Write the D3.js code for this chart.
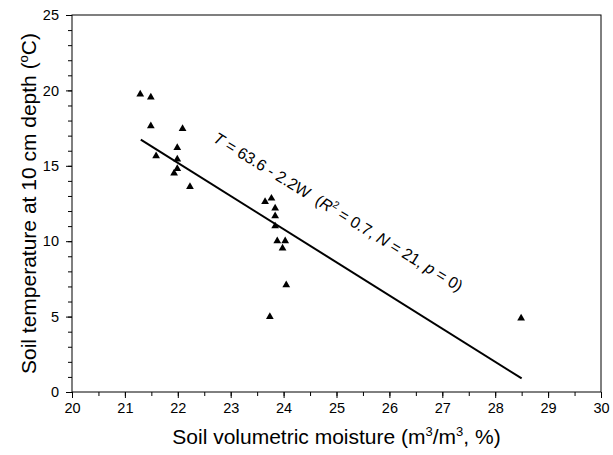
<!DOCTYPE html>
<html>
<head>
<meta charset="utf-8">
<script src="https://cdn.jsdelivr.net/npm/d3@7"></script>
<style>
  body { margin: 0; background: #fff; }
  svg { font-family: Arial, "Liberation Sans", sans-serif; }
</style>
</head>
<body>
<svg id="chart" width="613" height="455"></svg>
<script>
// soil volumetric moisture (%) and soil temperature at 10 cm (deg C)
var moisture = [21.29, 21.49, 21.49, 22.09, 21.99, 21.59, 21.99, 21.99, 21.93, 22.23,
                23.65, 23.77, 23.84, 23.84, 23.84, 23.88, 24.03, 23.98, 24.05, 23.74, 28.49];
var temperature = [19.74, 19.54, 17.64, 17.46, 16.2, 15.65, 15.43, 14.8, 14.5, 13.61,
                   12.62, 12.84, 12.18, 11.67, 11.0, 10.01, 10.01, 9.53, 7.1, 4.99, 4.89];
var xTicks = [20, 21, 22, 23, 24, 25, 26, 27, 28, 29, 30];
var yTicks = [0, 5, 10, 15, 20, 25];
// regression T = 63.6 - 2.2W
var fit = { a: 63.6, b: -2.2, from: 21.3, to: 28.5 };

var svg = d3.select("#chart");
var pLeft = 72, pRight = 601, pTop = 15, pBottom = 392;

var x = d3.scaleLinear().domain([20, 30]).range([pLeft, pRight]);
var y = d3.scaleLinear().domain([0, 25]).range([pBottom, pTop]);

// frame
svg.append("rect")
  .attr("x", pLeft).attr("y", pTop)
  .attr("width", pRight - pLeft).attr("height", pBottom - pTop)
  .attr("fill", "none").attr("stroke", "#000").attr("stroke-width", 1);

// ticks, minor + major
var gx = svg.append("g").attr("transform", "translate(0," + pBottom + ")");
gx.call(d3.axisBottom(x).tickValues(d3.range(20, 30.01, 0.5)).tickSize(4).tickFormat(""));
gx.append("g").call(d3.axisBottom(x).tickValues(xTicks).tickSize(6).tickFormat(d3.format("d")));
gx.selectAll(".domain").remove();

var gy = svg.append("g").attr("transform", "translate(" + pLeft + ",0)");
gy.call(d3.axisLeft(y).tickValues(d3.range(0, 25.01, 1)).tickSize(4).tickFormat(""));
gy.append("g").call(d3.axisLeft(y).tickValues(yTicks).tickSize(6).tickFormat(d3.format("d")));
gy.selectAll(".domain").remove();

svg.selectAll(".tick line").attr("stroke", "#000");
svg.selectAll(".tick text").attr("font-size", 14.5).attr("fill", "#000")
  .attr("font-family", "Arial, 'Liberation Sans', sans-serif");
gx.selectAll(".tick text").attr("dy", "0.85em");
gy.selectAll(".tick text").attr("x", -13);

// regression line
svg.append("line")
  .attr("x1", x(fit.from)).attr("y1", y(fit.a + fit.b * fit.from))
  .attr("x2", x(fit.to)).attr("y2", y(fit.a + fit.b * fit.to))
  .attr("stroke", "#000").attr("stroke-width", 2);

// points
var tri = d3.symbol().type(d3.symbolTriangle).size(26);
svg.selectAll("path.pt")
  .data(moisture)
  .enter().append("path")
  .attr("class", "pt")
  .attr("d", tri)
  .attr("transform", function(d, i) {
    return "translate(" + x(d) + "," + y(temperature[i]) + ")";
  })
  .attr("fill", "#000");

// equation label
var eq = svg.append("text")
  .attr("transform", "translate(212,141) rotate(31.5)")
  .attr("font-size", 16).attr("fill", "#000");
eq.append("tspan").attr("font-style", "italic").text("T");
eq.append("tspan").text(" = 63.6 - 2.2W\u00a0\u00a0(");
eq.append("tspan").attr("font-style", "italic").text("R");
eq.append("tspan").attr("font-size", 10).attr("dy", -7).text("2");
eq.append("tspan").attr("dy", 7).text(" = 0.7, ");
eq.append("tspan").attr("font-style", "italic").text("N");
eq.append("tspan").text(" = 21, ");
eq.append("tspan").attr("font-style", "italic").text("p");
eq.append("tspan").text(" = 0)");

// axis titles
var xt = svg.append("text")
  .attr("x", (pLeft + pRight) / 2).attr("y", 444)
  .attr("text-anchor", "middle").attr("font-size", 21).attr("fill", "#000");
xt.append("tspan").text("Soil volumetric moisture (m");
xt.append("tspan").attr("font-size", 13).attr("dy", -8).text("3");
xt.append("tspan").attr("dy", 8).text("/m");
xt.append("tspan").attr("font-size", 13).attr("dy", -8).text("3");
xt.append("tspan").attr("dy", 8).text(", %)");

var yt = svg.append("text")
  .attr("transform", "translate(36," + ((pTop + pBottom) / 2) + ") rotate(-90)")
  .attr("text-anchor", "middle").attr("font-size", 21).attr("fill", "#000");
yt.append("tspan").text("Soil temperature at 10 cm depth (");
yt.append("tspan").attr("font-size", 13).attr("dy", -8).text("o");
yt.append("tspan").attr("dy", 8).text("C)");
</script>
</body>
</html>
